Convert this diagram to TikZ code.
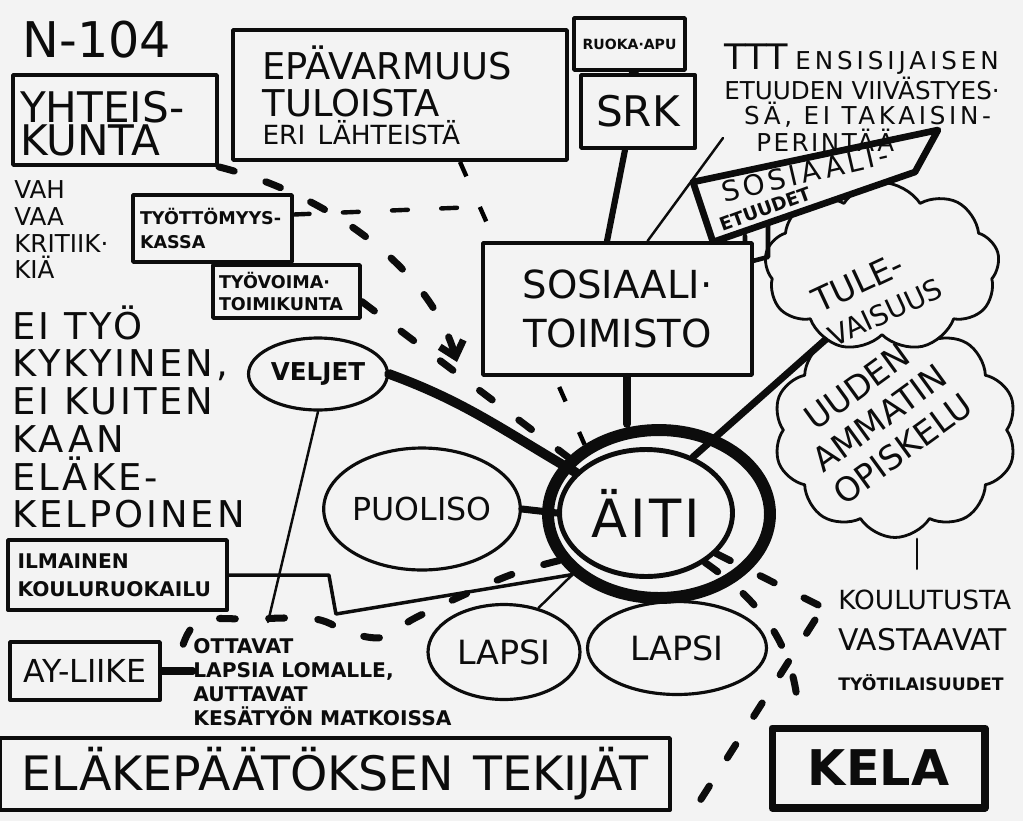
\documentclass[tikz,border=0pt]{standalone}
\usepackage{fontspec}
\setmainfont{DejaVu Sans}
\usepackage{tikz}
\usetikzlibrary{shapes, shapes.geometric, shapes.symbols, arrows.meta, calc}
\usepackage{xcolor}
\definecolor{paper}{RGB}{243,243,243}
\definecolor{ink}{RGB}{12,12,12}
\newcommand{\fsz}[2]{\fontsize{#1}{#2}\selectfont}
\newcommand{\spaced}[2]{{\addfontfeatures{LetterSpace=#1}#2}}
\pgfdeclarelayer{paperlayer}
\pgfdeclarelayer{back}
\pgfsetlayers{paperlayer,back,main}

\begin{document}
\begin{tikzpicture}[
        x=0.02cm, y=-0.02cm,
        color=ink, line cap=round, line join=round,
        txt/.style={inner sep=0pt, align=left},
        panel/.style={rectangle, draw, line width=2.2pt, inner sep=3pt, align=left},
        blob/.style={ellipse, draw, line width=1.8pt, inner sep=0pt},
        puff/.style={cloud, draw, fill=paper, cloud puff arc=115, cloud ignores aspect, line width=1.6pt},
        link/.style={line width=4.5pt},
        thinlink/.style={line width=1.4pt},
        dashlink/.style={line width=4pt, dash pattern=on 9pt off 19pt}
    ]
        \begin{pgfonlayer}{paperlayer}
            \fill[paper] (0,0) rectangle (1023,821);
        \end{pgfonlayer}
        \useasboundingbox (0,0) rectangle (1023,821);

        \node[puff, cloud puffs=10, minimum width=4.88cm, minimum height=4.3cm] (study) at (895,430) {};
        \node[puff, cloud puffs=9, minimum width=4.7cm, minimum height=3.38cm] (future) at (882,267) {};
        \node[txt, rotate=25, font=\fsz{19}{21}] (futuretext) at (877,294) {TULE-\\{\fsz{16}{21}VAISUUS}};
        \node[txt, rotate=36, align=center, font=\fsz{19}{22}] (studytext) at (880,418) {UUDEN\\AMMATIN\\OPISKELU};

        \draw[line width=2.6pt] (745,236) -- (745,263) -- (768,257) -- (768,222);
        \draw[line width=3.8pt, fill=paper] (693,182) -- (938,130) -- (915,172) -- (713,242) -- cycle;
        \node[txt, rotate=13, font=\fsz{16}{16}\addfontfeatures{LetterSpace=14}] (benefits) at (805,173) {SOSIAALI-};
        \node[txt, rotate=20, font=\bfseries\fsz{10.5}{10.5}] (benefitsub) at (765,209) {ETUUDET};

        \node[txt, font=\fsz{28}{28}] (code) at (97,40) {N-104};
        \node[panel, minimum width=4.08cm, minimum height=1.8cm, text width=3.8cm, font=\fsz{24}{19}] (society) at (115,120) {\rule{0pt}{22pt}YHTEIS-\\KUNTA};
        \node[panel, minimum width=6.68cm, minimum height=2.6cm, text width=5.5cm, font=\fsz{21}{21.5}] (doubt) at (400,95) {EPÄVARMUUS\\TULOISTA\\[-6pt]{\fsz{15}{21.5}ERI LÄHTEISTÄ}};
        \node[panel, line width=2pt, minimum width=2.22cm, minimum height=1.04cm, align=center, font=\bfseries\fsz{8}{9}] (foodaid) at (629.5,44) {RUOKA·APU};
        \node[panel, minimum width=2.28cm, minimum height=1.46cm, align=center, font=\fsz{24}{24}] (srk) at (638,111.5) {SRK};
        \node[txt, anchor=north west, font=\fsz{14}{14.2}] (delay) at (724,44) {{\fsz{20}{14.2}TTT} \spaced{16}{ENSISIJAISEN}\\ETUUDEN VIIVÄSTYES·\\\hspace{0.8em}\spaced{15}{SÄ, EI TAKAISIN-}\\\hspace{1.3em}\spaced{10}{PERINTÄÄ}};
        \node[panel, fill=paper, minimum width=5.38cm, minimum height=2.64cm, align=center, font=\fsz{22}{28}] (office) at (617.5,309) {SOSIAALI·\\TOIMISTO};
        \node[txt, anchor=north west, font=\fsz{14}{15.3}] (critique) at (14,180) {VAH\\VAA\\KRITIIK·\\KIÄ};
        \node[txt, anchor=north west, font=\fsz{21}{21.5}\addfontfeatures{LetterSpace=8}] (unfit) at (12,305) {EI TYÖ\\KYKYINEN,\\EI KUITEN\\KAAN\\ELÄKE-\\KELPOINEN};
        \node[panel, line width=2pt, minimum width=3.18cm, minimum height=1.34cm, text width=2.9cm, font=\bfseries\fsz{10}{14}] (fund) at (212.5,228.5) {TYÖTTÖMYYS-\\KASSA};
        \node[panel, line width=2pt, minimum width=2.94cm, minimum height=1.06cm, text width=2.7cm, font=\bfseries\fsz{10}{13}] (board) at (286.5,291.5) {TYÖVOIMA·\\TOIMIKUNTA};
        \node[panel, minimum width=4.38cm, minimum height=1.4cm, text width=4.0cm, font=\bfseries\fsz{11.5}{16}] (meals) at (117.5,575) {ILMAINEN\\KOULURUOKAILU};
        \node[panel, minimum width=3.0cm, minimum height=1.16cm, align=center, font=\fsz{18}{18}] (union) at (85,671) {AY-LIIKE};
        \node[txt, anchor=west, font=\bfseries\fsz{11.5}{13.6}] (holiday) at (193,682) {OTTAVAT\\LAPSIA LOMALLE,\\AUTTAVAT\\KESÄTYÖN MATKOISSA};
        \node[panel, minimum width=13.4cm, minimum height=1.44cm, align=center, font=\fsz{27}{27}] (pension) at (335,774) {ELÄKEPÄÄTÖKSEN\hspace{0.4em}TEKIJÄT};
        \node[panel, line width=4pt, minimum width=4.26cm, minimum height=1.6cm, align=center, font=\bfseries\fsz{28}{28}] (kela) at (878.5,768) {KELA};
        \node[txt, anchor=north west, font=\fsz{15}{23}] (jobs) at (838,590) {KOULUTUSTA\\{\fsz{17}{23}VASTAAVAT}\\{\bfseries\fsz{9.8}{23}TYÖTILAISUUDET}};

        \node[blob, line width=2.8pt, minimum width=3.46cm, minimum height=2.54cm, font=\fsz{30}{30}\addfontfeatures{LetterSpace=6}] (mother) at (646,513) {ÄITI};
        \node[ellipse, draw, line width=6.8pt, minimum width=4.44cm, minimum height=3.36cm] (ring) at (659,514) {};
        \node[blob, minimum width=3.5cm, minimum height=2.44cm, font=\fsz{18}{18}] (spouse) at (422,509) {PUOLISO};
        \node[blob, minimum width=2.78cm, minimum height=1.44cm, font=\bfseries\fsz{14}{14}] (brothers) at (318,374) {VELJET};
        \node[blob, minimum width=3.04cm, minimum height=1.9cm, font=\fsz{19}{19}] (child1) at (504,652) {LAPSI};
        \node[blob, minimum width=3.58cm, minimum height=1.86cm, font=\fsz{19}{19}] (child2) at (677,648) {LAPSI};

        \coordinate (delayfoot) at (723,138);
        \coordinate (brothersfoot) at (268,622);
        \coordinate (holidaytop) at (183,645);
        \coordinate (fundjoin) at (476,207);
        \coordinate (societytip) at (457,362);
        \coordinate (forkpoint) at (815,620);
        \coordinate (officefoot) at ([xshift=0.19cm]office.south);

        \draw[thinlink] (foodaid.south) -- (srk.north);
        \draw[link, line width=3.5pt] ([xshift=-0.26cm]srk.south) -- ([xshift=-0.21cm]office.north);
        \draw[thinlink] (delayfoot) -- ([xshift=0.6cm]office.north);
        \draw[link] (officefoot) -- (officefoot |- ring.north);
        \draw[link, line width=4pt] (mother.50) -- (future.232);
        \draw[link, line width=5.5pt] (brothers.east) to[out=-20, in=150] (mother.150);
        \draw[link, line width=4pt] (spouse.east) -- (mother.west);
        \draw[thinlink, line width=2pt] (meals.east) -- ++(100,0) -- ++(7,39) -- (ring.215);
        \draw[thinlink] (child1.52) -- (ring.215);
        \draw[thinlink] (brothers.south) -- (brothersfoot);
        \draw[link, line width=4pt] (union.east) -- (union.east -| holiday.west);
        \draw[thinlink] ([xshift=0.44cm]study.south) -- ++(0,30);

        \begin{pgfonlayer}{back}
            \draw[dashlink, line width=2.5pt] ([xshift=1.2cm]doubt.south) -- (ring.137);
        \end{pgfonlayer}
        \draw[dashlink, line width=2.5pt] ([yshift=0.28cm]fund.east) -- (fundjoin);
        \draw[dashlink, -{Straight Barb[length=8pt, width=14pt]}] (society.south east) .. controls (330,195) and (430,270) .. (societytip);
        \draw[dashlink] ([yshift=-0.2cm]board.east) -- (ring.148);
        \draw[dashlink] plot[smooth, tension=0.6] coordinates {(ring.205) (505,577) (417,617) (385,637) (350,633) (315,619) (250,619) (200,621) (holidaytop)};
        \draw[dashlink] (mother.330) -- ([yshift=-0.5cm]jobs.north west);
        \draw[dashlink] (mother.320) to[out=-35, in=90] ([xshift=-1.6cm]kela.north);
        \draw[dashlink] (forkpoint) -- ([xshift=0.42cm]pension.south east);
    \end{tikzpicture}
\end{document}
